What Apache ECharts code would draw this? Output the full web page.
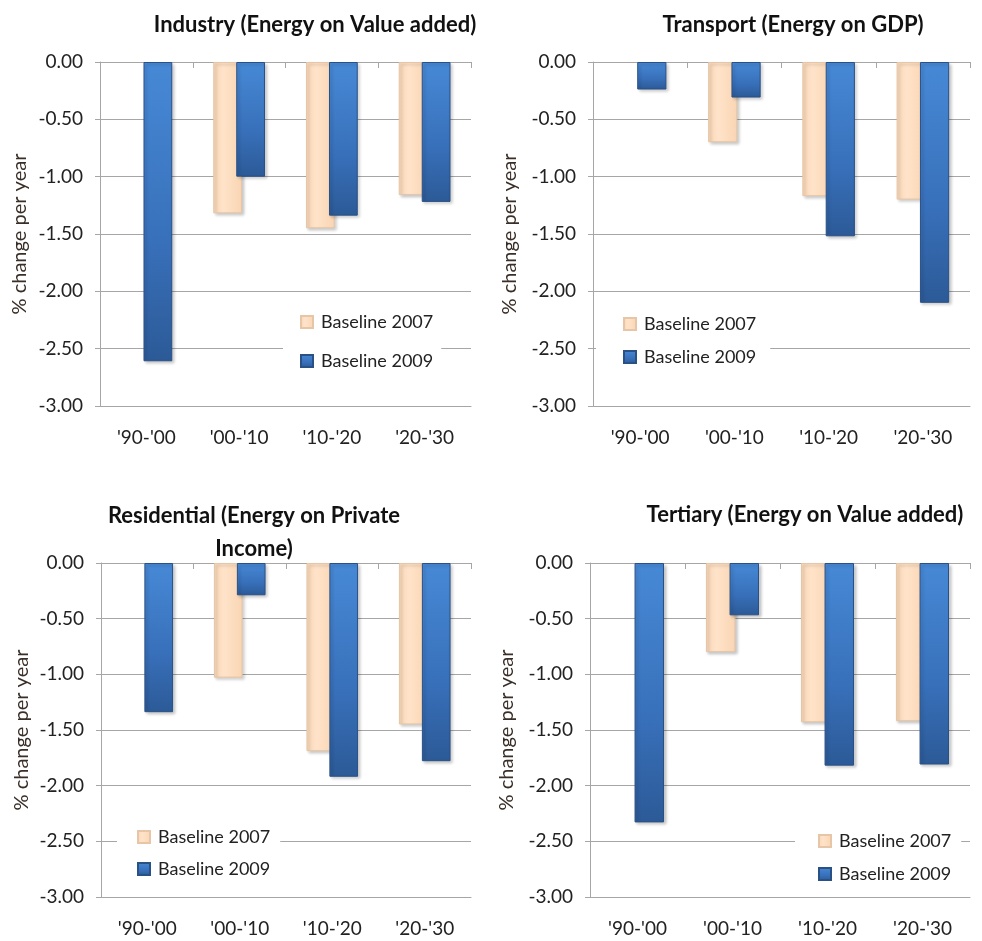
<!DOCTYPE html>
<html>
<head>
<meta charset="utf-8">
<script src="https://cdn.jsdelivr.net/npm/echarts@6/dist/echarts.min.js"></script>
<style>
  html, body { margin: 0; padding: 0; background: #ffffff; }
  #chart { width: 982px; height: 941px; }
</style>
</head>
<body>
<div id="chart"></div>
<script>
// ---- data ----
var categories = ["'90-'00", "'00-'10", "'10-'20", "'20-'30"];
var seriesNames = ["Baseline 2007", "Baseline 2009"];
var yTickValues = [0, -0.5, -1, -1.5, -2, -2.5, -3];
var panelTitles = [
  "Industry (Energy on Value added)",
  "Transport (Energy on GDP)",
  "Residential (Energy on Private\nIncome)",
  "Tertiary (Energy on Value added)"
];
var industry2007 = [null, -1.32, -1.45, -1.16];
var industry2009 = [-2.61, -1.00, -1.34, -1.22];
var transport2007 = [null, -0.70, -1.17, -1.20];
var transport2009 = [-0.24, -0.31, -1.52, -2.10];
var residential2007 = [null, -1.03, -1.69, -1.45];
var residential2009 = [-1.34, -0.29, -1.92, -1.78];
var tertiary2007 = [null, -0.80, -1.43, -1.42];
var tertiary2009 = [-2.33, -0.47, -1.82, -1.81];
var axisName = "% change per year";

// ---- layout / style ----
var FONT = "Lato, 'Open Sans', 'Liberation Sans', sans-serif";
var GRID_COLOR = "#a6a6a6";
var panelData = [
  [industry2007, industry2009],
  [transport2007, transport2009],
  [residential2007, residential2009],
  [tertiary2007, tertiary2009]
];
var grids = [
  { left: 100, top: 62, width: 371, height: 344 },
  { left: 593, top: 62, width: 377, height: 344 },
  { left: 101, top: 563, width: 370, height: 334 },
  { left: 590, top: 563, width: 380, height: 334 }
];
var titlePos = [
  { x: 310, y: 3 },
  { x: 788, y: 3 },
  { x: 249, y: 494 },
  { x: 800, y: 493 }
];
var legendPos = [
  { left: 283, top: 302, gap: 19, pad: [10, 8, 10, 17] },
  { left: 596, top: 304, gap: 13, pad: [10, 14, 10, 27] },
  { left: 117, top: 817, gap: 12, pad: [10, 10, 10, 20] },
  { left: 795, top: 821, gap: 13, pad: [10, 10, 10, 23] }
];
var nameGaps = [70, 73, 69, 73];

var peachFill = new echarts.graphic.LinearGradient(0, 0, 1, 0, [
  { offset: 0, color: "#f8d6b6" },
  { offset: 0.35, color: "#ffe3c9" },
  { offset: 1, color: "#f9d5b3" }
]);
var blueFill = new echarts.graphic.LinearGradient(0, 0, 0, 1, [
  { offset: 0, color: "#4789d6" },
  { offset: 0.6, color: "#3870ba" },
  { offset: 1, color: "#2c5a97" }
]);
var barStyles = [
  { color: peachFill, borderColor: "#e6c6a6", borderWidth: 1,
    shadowColor: "rgba(0,0,0,0.22)", shadowBlur: 3, shadowOffsetX: 2, shadowOffsetY: 2 },
  { color: blueFill, borderColor: "#2a5186", borderWidth: 1,
    shadowColor: "rgba(0,0,0,0.22)", shadowBlur: 3, shadowOffsetX: 2, shadowOffsetY: 2 }
];

var option = {
  backgroundColor: "#ffffff",
  animation: false,
  textStyle: { fontFamily: FONT },
  title: [], grid: [], xAxis: [], yAxis: [], legend: [], series: []
};

for (var i = 0; i < 4; i++) {
  option.grid.push(Object.assign({ containLabel: false }, grids[i]));
  option.title.push({
    text: panelTitles[i],
    left: titlePos[i].x,
    top: titlePos[i].y,
    textAlign: "center",
    textStyle: { fontFamily: FONT, fontSize: 22, fontWeight: "bold", color: "#111", lineHeight: 33 }
  });
  // bottom axis with labels
  option.xAxis.push({
    type: "category", gridIndex: i, position: "bottom", data: categories,
    axisLine: { onZero: false, lineStyle: { color: GRID_COLOR, width: 1 } },
    axisTick: { show: false },
    axisLabel: { margin: 22, fontFamily: FONT, fontSize: 19, color: "#222" },
    splitLine: { show: false }
  });
  // top axis at zero line with boundary ticks
  option.xAxis.push({
    type: "category", gridIndex: i, position: "top", data: categories,
    axisLine: { onZero: false, lineStyle: { color: GRID_COLOR, width: 1 } },
    axisTick: { show: true, inside: true, length: 6, lineStyle: { color: GRID_COLOR } },
    axisLabel: { show: false },
    splitLine: { show: false }
  });
  option.yAxis.push({
    type: "value", gridIndex: i, min: -3, max: 0, interval: 0.5,
    name: axisName, nameLocation: "middle", nameGap: nameGaps[i], nameRotate: 90,
    nameTextStyle: { fontFamily: FONT, fontSize: 20, color: "#3a2f28" },
    axisLine: { show: true, lineStyle: { color: GRID_COLOR, width: 1 } },
    axisTick: { show: true, length: 5, lineStyle: { color: GRID_COLOR } },
    axisLabel: {
      margin: 17, fontFamily: FONT, fontSize: 19, color: "#222",
      customValues: yTickValues,
      formatter: function (v) { return Number(v).toFixed(2); }
    },
    splitLine: { show: true, lineStyle: { color: GRID_COLOR, width: 1 } }
  });
  option.legend.push({
    data: seriesNames,
    orient: "vertical",
    left: legendPos[i].left, top: legendPos[i].top,
    itemGap: legendPos[i].gap,
    itemWidth: 12, itemHeight: 12,
    icon: "rect",
    padding: legendPos[i].pad,
    backgroundColor: "#ffffff",
    selectedMode: false,
    textStyle: { fontFamily: FONT, fontSize: 18, color: "#222", lineHeight: 20, padding: [0, 0, 0, 3] }
  });
  for (var s = 0; s < 2; s++) {
    option.series.push({
      type: "bar", name: seriesNames[s],
      xAxisIndex: i * 2, yAxisIndex: i,
      data: panelData[i][s].map(function (v) { return v === null ? "-" : v; }),
      barWidth: "31%", barGap: "-20%",
      itemStyle: barStyles[s],
      z: 2 + s
    });
  }
}

var chart = echarts.init(document.getElementById("chart"), null, { renderer: "canvas" });
chart.setOption(option);
</script>
</body>
</html>
